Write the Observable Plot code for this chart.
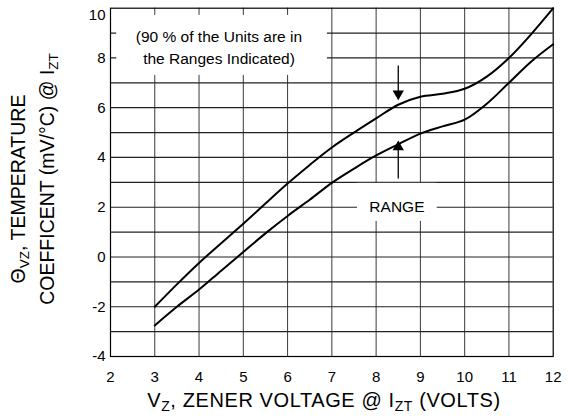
<!DOCTYPE html>
<html>
<head>
<meta charset="utf-8">
<script src="https://cdn.jsdelivr.net/npm/d3@7"></script>
<script src="https://cdn.jsdelivr.net/npm/@observablehq/plot@0.6"></script>
<style>
  html, body { margin: 0; padding: 0; background: #fff; }
  #chart { width: 568px; height: 419px; }
</style>
</head>
<body>
<div id="chart"></div>
<script>
// ---- data ----
const vz = [3, 3.5, 4, 4.5, 5, 5.5, 6, 6.5, 7, 7.5, 8, 8.5, 9, 9.5, 10, 10.5, 11, 11.5, 12];
const upperTC = [-2.0, -1.1, -0.24, 0.55, 1.34, 2.15, 2.95, 3.7, 4.4, 5.0, 5.57, 6.12, 6.44, 6.56, 6.76, 7.25, 8.0, 8.95, 10.0];
const lowerTC = [-2.75, -2.0, -1.31, -0.55, 0.2, 0.95, 1.65, 2.3, 2.98, 3.55, 4.08, 4.53, 4.96, 5.25, 5.52, 6.16, 7.0, 7.85, 8.55];
const xTicks = [2, 3, 4, 5, 6, 7, 8, 9, 10, 11, 12];
const yTicks = [-4, -2, 0, 2, 4, 6, 8, 10];
const gridX = [3, 4, 5, 6, 7, 8, 9, 10, 11];
const gridY = [-3, -2, -1, 0, 1, 2, 3, 4, 5, 6, 7, 8, 9];
const noteText = ["(90 % of the Units are in", "the Ranges Indicated)"];
const rangeText = "RANGE";
// annotation boxes (data units)
const noteBox = [{x1: 2.14, x2: 6.9, y1: 7.3, y2: 9.71}];
const rangeBox = [{x1: 7.58, x2: 9.38, y1: 1.43, y2: 2.96}];
const arrows = [
  {x: 8.5, yFrom: 7.7, yTo: 6.36, rot: 180},
  {x: 8.5, yFrom: 3.15, yTo: 4.62, rot: 0}
];

const font = "'Liberation Sans', Arial, Helvetica, sans-serif";
const upper = vz.map((x, i) => ({x, y: upperTC[i]}));
const lower = vz.map((x, i) => ({x, y: lowerTC[i]}));

const svg = Plot.plot({
  width: 568,
  height: 419,
  marginLeft: 110,
  marginRight: 15.3,
  marginTop: 7.7,
  marginBottom: 63,
  style: {fontFamily: font, background: "white", color: "#000"},
  x: {domain: [2, 12]},
  y: {domain: [-4, 10]},
  marks: [
    Plot.ruleX(gridX, {stroke: "#3a3a3a", strokeWidth: 1}),
    Plot.ruleY(gridY, {stroke: "#222", strokeWidth: 1.2}),
    Plot.rect(noteBox, {x1: "x1", x2: "x2", y1: "y1", y2: "y2", fill: "white"}),
    Plot.rect(rangeBox, {x1: "x1", x2: "x2", y1: "y1", y2: "y2", fill: "white"}),
    Plot.frame({stroke: "#000", strokeWidth: 1.2}),
    Plot.line(upper, {x: "x", y: "y", stroke: "#000", strokeWidth: 2, curve: "catmull-rom"}),
    Plot.line(lower, {x: "x", y: "y", stroke: "#000", strokeWidth: 2, curve: "catmull-rom"}),
    Plot.link(arrows, {x1: "x", x2: "x", y1: "yFrom", y2: "yTo", stroke: "#000", strokeWidth: 1.3}),
    Plot.dot(arrows.filter(d => d.rot === 180), {x: "x", y: "yTo", symbol: "triangle", r: 4.2, fill: "#000", stroke: null, rotate: 180, dy: -5}),
    Plot.dot(arrows.filter(d => d.rot === 0), {x: "x", y: "yTo", symbol: "triangle", r: 4.2, fill: "#000", stroke: null, dy: 5}),
    Plot.text([noteText.join("\n")], {x: 4.45, y: 8.5, text: d => d, fontSize: 15.5, lineHeight: 1.42, fill: "#000"}),
    Plot.text([rangeText], {x: 8.47, y: 2, text: d => d, fontSize: 15.5, fill: "#000"}),
    Plot.axisX({ticks: xTicks, tickSize: 0, tickPadding: 15, fontSize: 15, label: null, tickFormat: d => String(d)}),
    Plot.axisY({ticks: yTicks.filter(d => d !== 10), tickSize: 0, tickPadding: 5, fontSize: 15, label: null, tickFormat: d => String(d)}),
    Plot.axisY({ticks: yTicks.filter(d => d === 10), tickSize: 0, tickPadding: 5, fontSize: 15, label: null, dy: 7, tickFormat: d => String(d)})
  ]
});

const s = d3.select(svg);
// x-axis label
const xl = s.append("text")
  .attr("x", 324).attr("y", 407)
  .attr("text-anchor", "middle")
  .attr("letter-spacing", 0.6)
  .attr("font-family", font).attr("font-size", 20).attr("fill", "#000");
xl.append("tspan").text("V");
xl.append("tspan").attr("font-size", 14).attr("dy", 4).text("Z");
xl.append("tspan").attr("dy", -4).text(", ZENER VOLTAGE @ I");
xl.append("tspan").attr("font-size", 14).attr("dy", 4).text("ZT");
xl.append("tspan").attr("dy", -4).text(" (VOLTS)");

// y-axis label, two lines
const yl1 = s.append("text")
  .attr("transform", "translate(25,189) rotate(-90)")
  .attr("text-anchor", "middle")
  .attr("font-family", font).attr("font-size", 19.5).attr("fill", "#000");
yl1.append("tspan").text("Θ");
yl1.append("tspan").attr("font-size", 13.5).attr("dy", 4).text("VZ");
yl1.append("tspan").attr("dy", -4).text(", TEMPERATURE");

const yl2 = s.append("text")
  .attr("transform", "translate(53.5,179) rotate(-90)")
  .attr("text-anchor", "middle")
  .attr("font-family", font).attr("font-size", 19.5).attr("fill", "#000");
yl2.append("tspan").text("COEFFICENT (mV/°C) @ I");
yl2.append("tspan").attr("font-size", 13.5).attr("dy", 4).text("ZT");

document.getElementById("chart").appendChild(svg);
</script>
</body>
</html>
